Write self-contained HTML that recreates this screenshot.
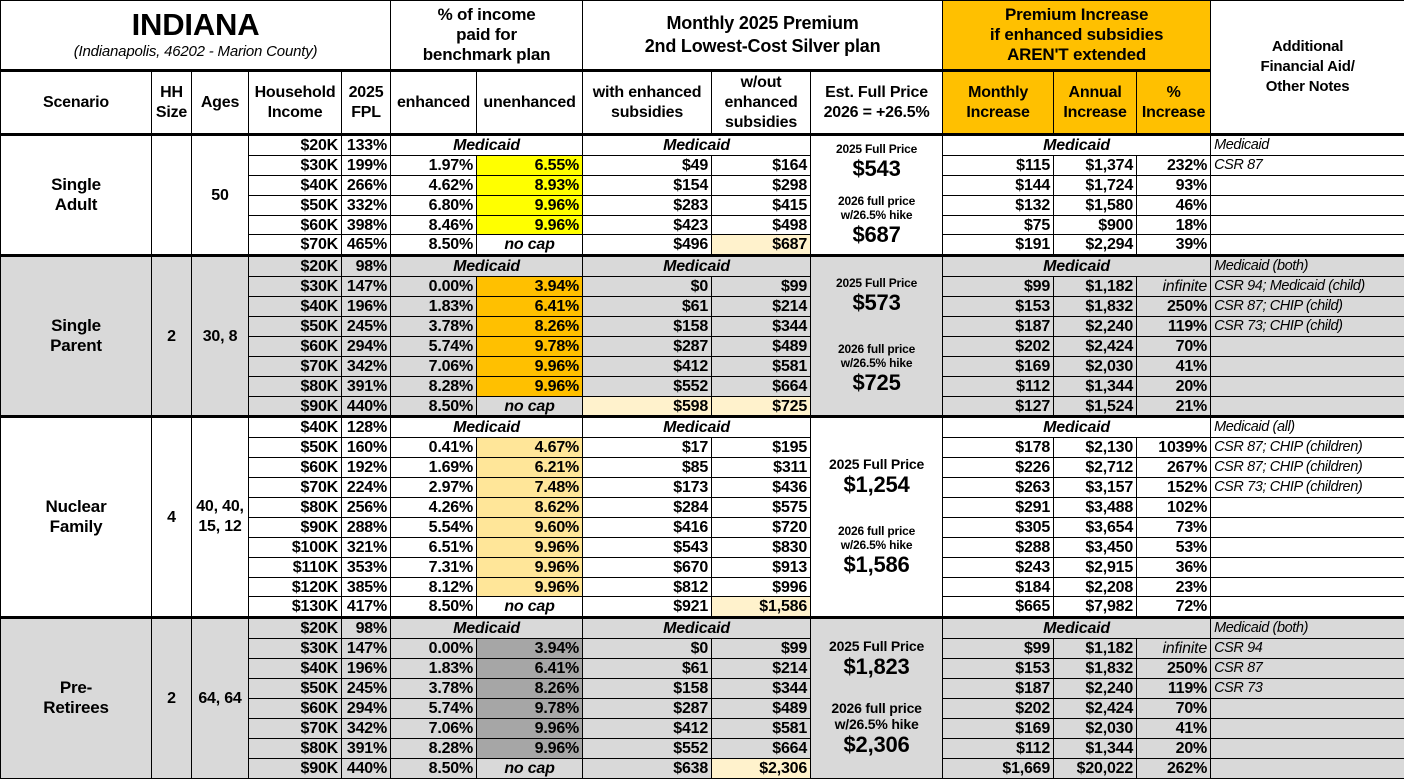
<!DOCTYPE html>
<html><head><meta charset="utf-8"><style>
html,body{margin:0;padding:0;background:#fff;width:1404px;height:779px;overflow:hidden}
table{border-collapse:collapse;table-layout:fixed;width:1404px;font-family:"Liberation Sans",Arial,sans-serif;font-weight:bold;font-size:16px;color:#000}
td{border:1.5px solid #000;padding:0 3px;height:18.9px;line-height:17px;text-align:right;white-space:nowrap;overflow:hidden;letter-spacing:-0.2px}
.h td{text-align:center;line-height:20px;white-space:normal;font-size:16px}
.c{text-align:center}
.i{font-style:italic}
.n{text-align:left;font-weight:normal;font-style:italic;font-size:14.5px;letter-spacing:-0.4px}
.g td{background:#d9d9d9}
td.y{background:#ffff00}
td.o{background:#ffc000}
td.lo{background:#ffe699}
td.dg{background:#a6a6a6}
td.ly{background:#fff2cc}
tr.top td{border-top:3px solid #000}
.fp{text-align:center;vertical-align:middle;line-height:normal;white-space:normal}
.s{font-size:12px}.s2{font-size:14px}.big{font-size:22px}
</style></head><body>
<table>
<colgroup><col style="width:151px"><col style="width:40px"><col style="width:57px"><col style="width:93px"><col style="width:49px"><col style="width:86px"><col style="width:106px"><col style="width:129px"><col style="width:99px"><col style="width:132px"><col style="width:111px"><col style="width:83px"><col style="width:74px"><col style="width:194px"></colgroup>
<tr class="h" style="height:70px"><td colspan="5" style="border-bottom:3px solid #000"><div style="font-size:31px;line-height:34px">INDIANA</div><div style="font-size:15px;font-weight:normal;font-style:italic">(Indianapolis, 46202 - Marion County)</div></td>
<td colspan="2" style="font-size:17px;border-bottom:3px solid #000">% of income<br>paid for<br>benchmark plan</td>
<td colspan="3" style="font-size:18px;line-height:23px;border-bottom:3px solid #000">Monthly 2025 Premium<br>2nd Lowest-Cost Silver plan</td>
<td colspan="3" class="o" style="font-size:17px;border-bottom:3px solid #000">Premium Increase<br>if enhanced subsidies<br>AREN'T extended</td>
<td rowspan="2" style="font-size:15px;line-height:20px">Additional<br>Financial Aid/<br>Other Notes</td></tr>
<tr class="h" style="height:64px"><td>Scenario</td><td>HH<br>Size</td><td>Ages</td><td>Household<br>Income</td><td>2025<br>FPL</td><td>enhanced</td><td>unenhanced</td><td>with enhanced<br>subsidies</td><td>w/out<br>enhanced<br>subsidies</td><td>Est. Full Price<br>2026 = +26.5%</td><td class="o">Monthly<br>Increase</td><td class="o">Annual<br>Increase</td><td class="o">%<br>Increase</td></tr>

<tr class="top"><td rowspan="6" class="c" style="font-size:17px;line-height:20px">Single<br>Adult</td><td rowspan="6"></td><td rowspan="6" class="c">50</td><td>$20K</td><td>133%</td><td colspan="2" class="c i">Medicaid</td><td colspan="2" class="c i">Medicaid</td><td rowspan="6" class="fp"><div class="s">2025 Full Price</div><div class="big">$543</div><div style="height:12px"></div><div class="s">2026 full price<br>w/26.5% hike</div><div class="big">$687</div></td><td colspan="3" class="c i">Medicaid</td><td class="n">Medicaid</td></tr>
<tr><td>$30K</td><td>199%</td><td>1.97%</td><td class="y">6.55%</td><td>$49</td><td>$164</td><td>$115</td><td>$1,374</td><td>232%</td><td class="n">CSR 87</td></tr>
<tr><td>$40K</td><td>266%</td><td>4.62%</td><td class="y">8.93%</td><td>$154</td><td>$298</td><td>$144</td><td>$1,724</td><td>93%</td><td class="n"></td></tr>
<tr><td>$50K</td><td>332%</td><td>6.80%</td><td class="y">9.96%</td><td>$283</td><td>$415</td><td>$132</td><td>$1,580</td><td>46%</td><td class="n"></td></tr>
<tr><td>$60K</td><td>398%</td><td>8.46%</td><td class="y">9.96%</td><td>$423</td><td>$498</td><td>$75</td><td>$900</td><td>18%</td><td class="n"></td></tr>
<tr><td>$70K</td><td>465%</td><td>8.50%</td><td class="c i">no cap</td><td>$496</td><td class="ly">$687</td><td>$191</td><td>$2,294</td><td>39%</td><td class="n"></td></tr>

<tr class="g top"><td rowspan="8" class="c" style="font-size:17px;line-height:20px">Single<br>Parent</td><td rowspan="8" class="c">2</td><td rowspan="8" class="c">30, 8</td><td>$20K</td><td>98%</td><td colspan="2" class="c i">Medicaid</td><td colspan="2" class="c i">Medicaid</td><td rowspan="8" class="fp"><div class="s">2025 Full Price</div><div class="big">$573</div><div style="height:26px"></div><div class="s">2026 full price<br>w/26.5% hike</div><div class="big">$725</div></td><td colspan="3" class="c i">Medicaid</td><td class="n">Medicaid (both)</td></tr>
<tr class="g"><td>$30K</td><td>147%</td><td>0.00%</td><td class="o">3.94%</td><td>$0</td><td>$99</td><td>$99</td><td>$1,182</td><td class="i" style="font-weight:normal">infinite</td><td class="n">CSR 94; Medicaid (child)</td></tr>
<tr class="g"><td>$40K</td><td>196%</td><td>1.83%</td><td class="o">6.41%</td><td>$61</td><td>$214</td><td>$153</td><td>$1,832</td><td>250%</td><td class="n">CSR 87; CHIP (child)</td></tr>
<tr class="g"><td>$50K</td><td>245%</td><td>3.78%</td><td class="o">8.26%</td><td>$158</td><td>$344</td><td>$187</td><td>$2,240</td><td>119%</td><td class="n">CSR 73; CHIP (child)</td></tr>
<tr class="g"><td>$60K</td><td>294%</td><td>5.74%</td><td class="o">9.78%</td><td>$287</td><td>$489</td><td>$202</td><td>$2,424</td><td>70%</td><td class="n"></td></tr>
<tr class="g"><td>$70K</td><td>342%</td><td>7.06%</td><td class="o">9.96%</td><td>$412</td><td>$581</td><td>$169</td><td>$2,030</td><td>41%</td><td class="n"></td></tr>
<tr class="g"><td>$80K</td><td>391%</td><td>8.28%</td><td class="o">9.96%</td><td>$552</td><td>$664</td><td>$112</td><td>$1,344</td><td>20%</td><td class="n"></td></tr>
<tr class="g"><td>$90K</td><td>440%</td><td>8.50%</td><td class="c i">no cap</td><td class="ly">$598</td><td class="ly">$725</td><td>$127</td><td>$1,524</td><td>21%</td><td class="n"></td></tr>

<tr class="top"><td rowspan="10" class="c" style="font-size:17px;line-height:20px">Nuclear<br>Family</td><td rowspan="10" class="c">4</td><td rowspan="10" class="c" style="line-height:20px">40, 40,<br>15, 12</td><td>$40K</td><td>128%</td><td colspan="2" class="c i">Medicaid</td><td colspan="2" class="c i">Medicaid</td><td rowspan="10" class="fp"><div class="s2">2025 Full Price</div><div class="big">$1,254</div><div style="height:26px"></div><div class="s">2026 full price<br>w/26.5% hike</div><div class="big">$1,586</div></td><td colspan="3" class="c i">Medicaid</td><td class="n">Medicaid (all)</td></tr>
<tr><td>$50K</td><td>160%</td><td>0.41%</td><td class="lo">4.67%</td><td>$17</td><td>$195</td><td>$178</td><td>$2,130</td><td>1039%</td><td class="n">CSR 87; CHIP (children)</td></tr>
<tr><td>$60K</td><td>192%</td><td>1.69%</td><td class="lo">6.21%</td><td>$85</td><td>$311</td><td>$226</td><td>$2,712</td><td>267%</td><td class="n">CSR 87; CHIP (children)</td></tr>
<tr><td>$70K</td><td>224%</td><td>2.97%</td><td class="lo">7.48%</td><td>$173</td><td>$436</td><td>$263</td><td>$3,157</td><td>152%</td><td class="n">CSR 73; CHIP (children)</td></tr>
<tr><td>$80K</td><td>256%</td><td>4.26%</td><td class="lo">8.62%</td><td>$284</td><td>$575</td><td>$291</td><td>$3,488</td><td>102%</td><td class="n"></td></tr>
<tr><td>$90K</td><td>288%</td><td>5.54%</td><td class="lo">9.60%</td><td>$416</td><td>$720</td><td>$305</td><td>$3,654</td><td>73%</td><td class="n"></td></tr>
<tr><td>$100K</td><td>321%</td><td>6.51%</td><td class="lo">9.96%</td><td>$543</td><td>$830</td><td>$288</td><td>$3,450</td><td>53%</td><td class="n"></td></tr>
<tr><td>$110K</td><td>353%</td><td>7.31%</td><td class="lo">9.96%</td><td>$670</td><td>$913</td><td>$243</td><td>$2,915</td><td>36%</td><td class="n"></td></tr>
<tr><td>$120K</td><td>385%</td><td>8.12%</td><td class="lo">9.96%</td><td>$812</td><td>$996</td><td>$184</td><td>$2,208</td><td>23%</td><td class="n"></td></tr>
<tr><td>$130K</td><td>417%</td><td>8.50%</td><td class="c i">no cap</td><td>$921</td><td class="ly">$1,586</td><td>$665</td><td>$7,982</td><td>72%</td><td class="n"></td></tr>

<tr class="g top"><td rowspan="8" class="c" style="font-size:17px;line-height:20px">Pre-<br>Retirees</td><td rowspan="8" class="c">2</td><td rowspan="8" class="c">64, 64</td><td>$20K</td><td>98%</td><td colspan="2" class="c i">Medicaid</td><td colspan="2" class="c i">Medicaid</td><td rowspan="8" class="fp"><div class="s2">2025 Full Price</div><div class="big">$1,823</div><div style="height:20px"></div><div class="s2">2026 full price<br>w/26.5% hike</div><div class="big">$2,306</div></td><td colspan="3" class="c i">Medicaid</td><td class="n">Medicaid (both)</td></tr>
<tr class="g"><td>$30K</td><td>147%</td><td>0.00%</td><td class="dg">3.94%</td><td>$0</td><td>$99</td><td>$99</td><td>$1,182</td><td class="i" style="font-weight:normal">infinite</td><td class="n">CSR 94</td></tr>
<tr class="g"><td>$40K</td><td>196%</td><td>1.83%</td><td class="dg">6.41%</td><td>$61</td><td>$214</td><td>$153</td><td>$1,832</td><td>250%</td><td class="n">CSR 87</td></tr>
<tr class="g"><td>$50K</td><td>245%</td><td>3.78%</td><td class="dg">8.26%</td><td>$158</td><td>$344</td><td>$187</td><td>$2,240</td><td>119%</td><td class="n">CSR 73</td></tr>
<tr class="g"><td>$60K</td><td>294%</td><td>5.74%</td><td class="dg">9.78%</td><td>$287</td><td>$489</td><td>$202</td><td>$2,424</td><td>70%</td><td class="n"></td></tr>
<tr class="g"><td>$70K</td><td>342%</td><td>7.06%</td><td class="dg">9.96%</td><td>$412</td><td>$581</td><td>$169</td><td>$2,030</td><td>41%</td><td class="n"></td></tr>
<tr class="g"><td>$80K</td><td>391%</td><td>8.28%</td><td class="dg">9.96%</td><td>$552</td><td>$664</td><td>$112</td><td>$1,344</td><td>20%</td><td class="n"></td></tr>
<tr class="g"><td>$90K</td><td>440%</td><td>8.50%</td><td class="c i">no cap</td><td>$638</td><td class="ly">$2,306</td><td>$1,669</td><td>$20,022</td><td>262%</td><td class="n"></td></tr>
</table>
</body></html>
